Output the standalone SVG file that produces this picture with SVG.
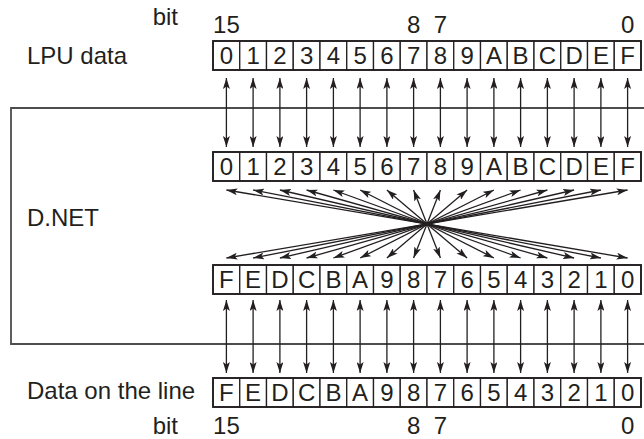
<svg xmlns="http://www.w3.org/2000/svg" width="644" height="439" viewBox="0 0 644 439">
<style>
text{font-family:"Liberation Sans",Arial,sans-serif;font-size:24px;fill:#231f20}
.d{text-anchor:middle}
.cell{fill:#fff;stroke:#231f20;stroke-width:1.3}
.row{fill:none;stroke:#231f20;stroke-width:1.8}
.a{stroke:#231f20;stroke-width:1.3;fill:none;marker-start:url(#ah);marker-end:url(#ah)}
</style>
<defs>
<marker id="ah" markerUnits="userSpaceOnUse" markerWidth="11" markerHeight="7" refX="11" refY="3.5" orient="auto-start-reverse">
<path d="M0,0 L11,3.5 L0,7 L2.5,3.5 Z" fill="#231f20"/>
</marker>
<g id="cells">
<rect class="cell" x="213" y="0" width="26.75" height="29"/>
<rect class="cell" x="239.75" y="0" width="26.75" height="29"/>
<rect class="cell" x="266.5" y="0" width="26.75" height="29"/>
<rect class="cell" x="293.25" y="0" width="26.75" height="29"/>
<rect class="cell" x="320" y="0" width="26.75" height="29"/>
<rect class="cell" x="346.75" y="0" width="26.75" height="29"/>
<rect class="cell" x="373.5" y="0" width="26.75" height="29"/>
<rect class="cell" x="400.25" y="0" width="26.75" height="29"/>
<rect class="cell" x="427" y="0" width="26.75" height="29"/>
<rect class="cell" x="453.75" y="0" width="26.75" height="29"/>
<rect class="cell" x="480.5" y="0" width="26.75" height="29"/>
<rect class="cell" x="507.25" y="0" width="26.75" height="29"/>
<rect class="cell" x="534" y="0" width="26.75" height="29"/>
<rect class="cell" x="560.75" y="0" width="26.75" height="29"/>
<rect class="cell" x="587.5" y="0" width="26.75" height="29"/>
<rect class="cell" x="614.25" y="0" width="26.75" height="29"/>
<rect class="row" x="213" y="0" width="428" height="29"/>
</g>
</defs>

<g id="dnet-frame">
<path d="M646,108 H11 V344 H646" fill="none" stroke="#4d4d4d" stroke-width="1.8"/>
</g>

<g id="labels">
<text x="178" y="25" text-anchor="end">bit</text>
<text class="d" x="226.4" y="33">15</text>
<text class="d" x="413.6" y="33">8</text>
<text class="d" x="440.4" y="33">7</text>
<text class="d" x="627.6" y="33">0</text>
<text x="27" y="64">LPU data</text>
<text x="27" y="226">D.NET</text>
<text x="27" y="399">Data on the line</text>
<text x="178" y="434" text-anchor="end">bit</text>
<text class="d" x="226.4" y="434">15</text>
<text class="d" x="413.6" y="434">8</text>
<text class="d" x="440.4" y="434">7</text>
<text class="d" x="627.6" y="434">0</text>
</g>

<g id="lpu-data">
<use href="#cells" y="41"/>
<text class="d" x="226.4" y="64">0</text><text class="d" x="253.1" y="64">1</text><text class="d" x="279.9" y="64">2</text><text class="d" x="306.6" y="64">3</text><text class="d" x="333.4" y="64">4</text><text class="d" x="360.1" y="64">5</text><text class="d" x="386.9" y="64">6</text><text class="d" x="413.6" y="64">7</text><text class="d" x="440.4" y="64">8</text><text class="d" x="467.1" y="64">9</text><text class="d" x="493.9" y="64">A</text><text class="d" x="520.6" y="64">B</text><text class="d" x="547.4" y="64">C</text><text class="d" x="574.1" y="64">D</text><text class="d" x="600.9" y="64">E</text><text class="d" x="627.6" y="64">F</text>
</g>

<g id="dnet-upper">
<use href="#cells" y="152"/>
<text class="d" x="226.4" y="175">0</text><text class="d" x="253.1" y="175">1</text><text class="d" x="279.9" y="175">2</text><text class="d" x="306.6" y="175">3</text><text class="d" x="333.4" y="175">4</text><text class="d" x="360.1" y="175">5</text><text class="d" x="386.9" y="175">6</text><text class="d" x="413.6" y="175">7</text><text class="d" x="440.4" y="175">8</text><text class="d" x="467.1" y="175">9</text><text class="d" x="493.9" y="175">A</text><text class="d" x="520.6" y="175">B</text><text class="d" x="547.4" y="175">C</text><text class="d" x="574.1" y="175">D</text><text class="d" x="600.9" y="175">E</text><text class="d" x="627.6" y="175">F</text>
</g>

<g id="dnet-lower">
<use href="#cells" y="265"/>
<text class="d" x="226.4" y="288">F</text><text class="d" x="253.1" y="288">E</text><text class="d" x="279.9" y="288">D</text><text class="d" x="306.6" y="288">C</text><text class="d" x="333.4" y="288">B</text><text class="d" x="360.1" y="288">A</text><text class="d" x="386.9" y="288">9</text><text class="d" x="413.6" y="288">8</text><text class="d" x="440.4" y="288">7</text><text class="d" x="467.1" y="288">6</text><text class="d" x="493.9" y="288">5</text><text class="d" x="520.6" y="288">4</text><text class="d" x="547.4" y="288">3</text><text class="d" x="574.1" y="288">2</text><text class="d" x="600.9" y="288">1</text><text class="d" x="627.6" y="288">0</text>
</g>

<g id="line-data">
<use href="#cells" y="378"/>
<text class="d" x="226.4" y="401">F</text><text class="d" x="253.1" y="401">E</text><text class="d" x="279.9" y="401">D</text><text class="d" x="306.6" y="401">C</text><text class="d" x="333.4" y="401">B</text><text class="d" x="360.1" y="401">A</text><text class="d" x="386.9" y="401">9</text><text class="d" x="413.6" y="401">8</text><text class="d" x="440.4" y="401">7</text><text class="d" x="467.1" y="401">6</text><text class="d" x="493.9" y="401">5</text><text class="d" x="520.6" y="401">4</text><text class="d" x="547.4" y="401">3</text><text class="d" x="574.1" y="401">2</text><text class="d" x="600.9" y="401">1</text><text class="d" x="627.6" y="401">0</text>
</g>

<g id="connectors">
<line class="a" x1="226.4" y1="78" x2="226.4" y2="147"/>
<line class="a" x1="253.1" y1="78" x2="253.1" y2="147"/>
<line class="a" x1="279.9" y1="78" x2="279.9" y2="147"/>
<line class="a" x1="306.6" y1="78" x2="306.6" y2="147"/>
<line class="a" x1="333.4" y1="78" x2="333.4" y2="147"/>
<line class="a" x1="360.1" y1="78" x2="360.1" y2="147"/>
<line class="a" x1="386.9" y1="78" x2="386.9" y2="147"/>
<line class="a" x1="413.6" y1="78" x2="413.6" y2="147"/>
<line class="a" x1="440.4" y1="78" x2="440.4" y2="147"/>
<line class="a" x1="467.1" y1="78" x2="467.1" y2="147"/>
<line class="a" x1="493.9" y1="78" x2="493.9" y2="147"/>
<line class="a" x1="520.6" y1="78" x2="520.6" y2="147"/>
<line class="a" x1="547.4" y1="78" x2="547.4" y2="147"/>
<line class="a" x1="574.1" y1="78" x2="574.1" y2="147"/>
<line class="a" x1="600.9" y1="78" x2="600.9" y2="147"/>
<line class="a" x1="627.6" y1="78" x2="627.6" y2="147"/>

<line class="a" x1="226.4" y1="300" x2="226.4" y2="373"/>
<line class="a" x1="253.1" y1="300" x2="253.1" y2="373"/>
<line class="a" x1="279.9" y1="300" x2="279.9" y2="373"/>
<line class="a" x1="306.6" y1="300" x2="306.6" y2="373"/>
<line class="a" x1="333.4" y1="300" x2="333.4" y2="373"/>
<line class="a" x1="360.1" y1="300" x2="360.1" y2="373"/>
<line class="a" x1="386.9" y1="300" x2="386.9" y2="373"/>
<line class="a" x1="413.6" y1="300" x2="413.6" y2="373"/>
<line class="a" x1="440.4" y1="300" x2="440.4" y2="373"/>
<line class="a" x1="467.1" y1="300" x2="467.1" y2="373"/>
<line class="a" x1="493.9" y1="300" x2="493.9" y2="373"/>
<line class="a" x1="520.6" y1="300" x2="520.6" y2="373"/>
<line class="a" x1="547.4" y1="300" x2="547.4" y2="373"/>
<line class="a" x1="574.1" y1="300" x2="574.1" y2="373"/>
<line class="a" x1="600.9" y1="300" x2="600.9" y2="373"/>
<line class="a" x1="627.6" y1="300" x2="627.6" y2="373"/>

<line class="a" x1="226.4" y1="190" x2="627.6" y2="258"/>
<line class="a" x1="253.1" y1="190" x2="600.9" y2="258"/>
<line class="a" x1="279.9" y1="190" x2="574.1" y2="258"/>
<line class="a" x1="306.6" y1="190" x2="547.4" y2="258"/>
<line class="a" x1="333.4" y1="190" x2="520.6" y2="258"/>
<line class="a" x1="360.1" y1="190" x2="493.9" y2="258"/>
<line class="a" x1="386.9" y1="190" x2="467.1" y2="258"/>
<line class="a" x1="413.6" y1="190" x2="440.4" y2="258"/>
<line class="a" x1="440.4" y1="190" x2="413.6" y2="258"/>
<line class="a" x1="467.1" y1="190" x2="386.9" y2="258"/>
<line class="a" x1="493.9" y1="190" x2="360.1" y2="258"/>
<line class="a" x1="520.6" y1="190" x2="333.4" y2="258"/>
<line class="a" x1="547.4" y1="190" x2="306.6" y2="258"/>
<line class="a" x1="574.1" y1="190" x2="279.9" y2="258"/>
<line class="a" x1="600.9" y1="190" x2="253.1" y2="258"/>
<line class="a" x1="627.6" y1="190" x2="226.4" y2="258"/>
</g>
</svg>
